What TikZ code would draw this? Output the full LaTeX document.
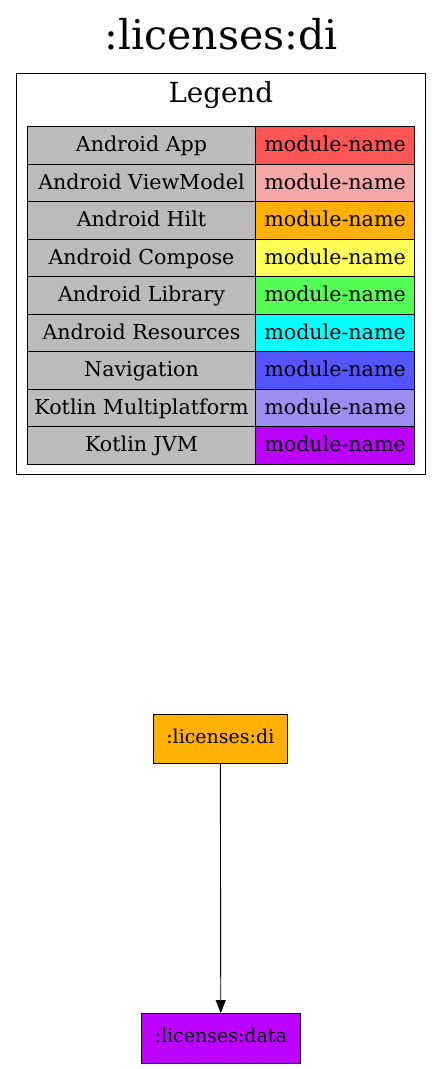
\documentclass[tikz,border=0pt]{standalone}
\usepackage{fontspec}
\setmainfont{DejaVu Serif}
\usetikzlibrary{arrows.meta,positioning}

\definecolor{keygray}{HTML}{BBBBBB}
\definecolor{appred}{HTML}{FF5555}
\definecolor{vmpink}{HTML}{F5A6A6}
\definecolor{hiltorange}{HTML}{FFB000}
\definecolor{composeyellow}{HTML}{FFFF55}
\definecolor{libgreen}{HTML}{55FF55}
\definecolor{rescyan}{HTML}{00FFFF}
\definecolor{navblue}{HTML}{5555FF}
\definecolor{kmppurple}{HTML}{9D8DF1}
\definecolor{jvmviolet}{HTML}{BB00FF}

\tikzset{
    legendkey/.style={draw, fill=keygray, inner sep=0pt, minimum width=228.4pt, minimum height=37.5pt,
        font=\fontsize{20.6}{24}\selectfont, text height=16pt, text depth=3.5pt},
    legendval/.style={draw, inner sep=0pt, minimum width=158.3pt, minimum height=37.5pt,
        font=\fontsize{20.6}{24}\selectfont, text height=16pt, text depth=3.5pt},
    module/.style={draw, inner sep=0pt, minimum height=49.5pt,
        font=\fontsize{19}{22}\selectfont, text height=14pt, text depth=4.8pt},
}

\begin{document}
\begin{tikzpicture}[x=1pt,y=-1pt,line width=0.9pt]
    \useasboundingbox (0,0) rectangle (442,1069);

    % Title
    \node[font=\fontsize{41}{46}\selectfont] (title) at (221,34) {:licenses:di};

    % Legend
    \node[draw, inner sep=0pt, minimum width=408.5pt, minimum height=401pt] (legend) at (220.75,273.5) {};
    \node[font=\fontsize{27.7}{32}\selectfont] (legendtitle) at (220.75,95) {Legend};

    \foreach \i/\kind/\col in {0/Android App/appred, 1/Android ViewModel/vmpink,
        2/Android Hilt/hiltorange, 3/Android Compose/composeyellow,
        4/Android Library/libgreen, 5/Android Resources/rescyan,
        6/Navigation/navblue, 7/Kotlin Multiplatform/kmppurple, 8/Kotlin JVM/jvmviolet} {
        \node[legendkey] (key\i) at (141.5,145.45+37.5*\i) {\kind};
        \node[legendval, fill=\col] (val\i) at (335.05,145.45+37.5*\i) {module-name};
    }

    % Modules
    \node[module, fill=hiltorange, minimum width=134pt] (di) at (220.3,738.7) {:licenses:di};
    \node[module, fill=jvmviolet, minimum width=158.3pt] (data) at (220.8,1038.3) {:licenses:data};

    \draw[-{Triangle[length=13pt,width=10pt]}] (di) -- (data);
\end{tikzpicture}
\end{document}
